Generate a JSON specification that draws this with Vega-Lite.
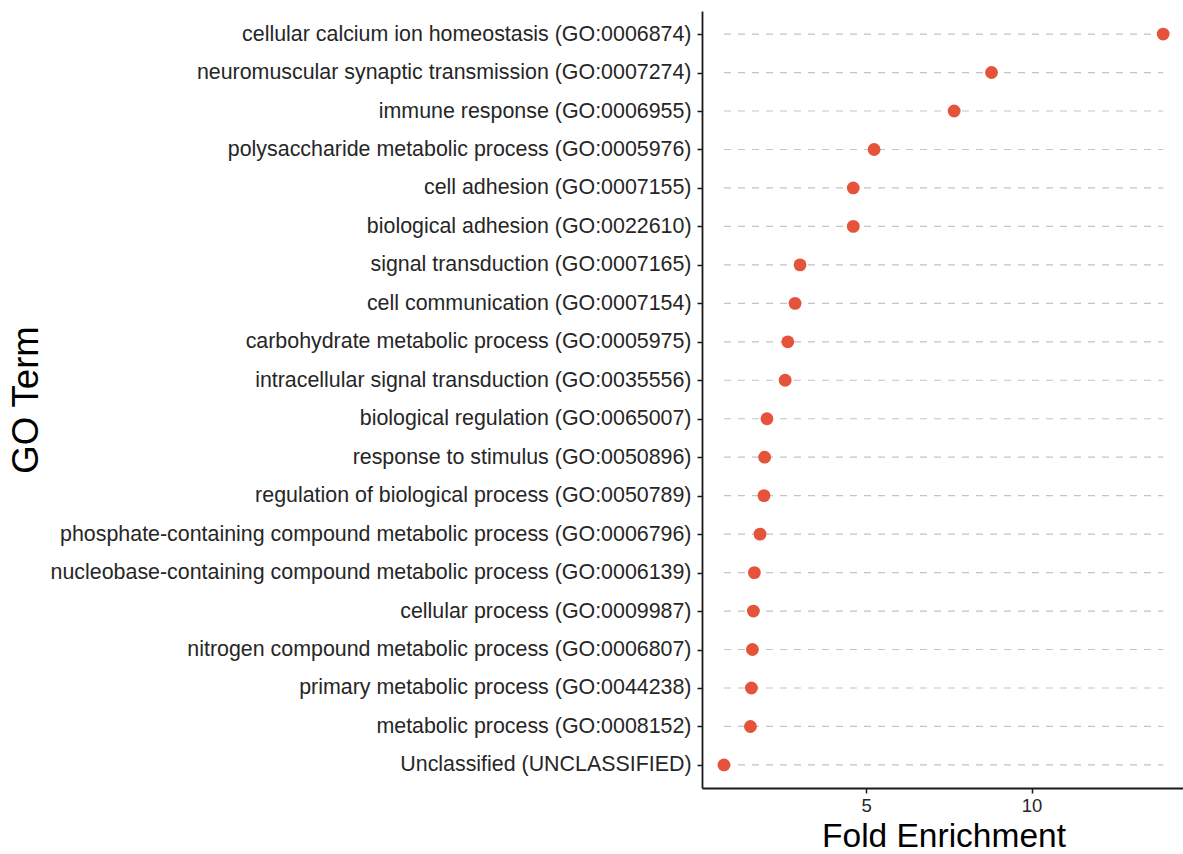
{
  "$schema": "https://vega.github.io/schema/vega-lite/v6.json",
  "autosize": {"type": "none"},
  "padding": {"left": 702, "top": 11, "right": 0, "bottom": 66},
  "width": 483,
  "height": 777,
  "background": "white",
  "config": {
    "view": {"stroke": null},
    "font": "Liberation Sans"
  },
  "data": {
    "values": [
      {"term": "cellular calcium ion homeostasis (GO:0006874)", "fold": 13.98},
      {"term": "neuromuscular synaptic transmission (GO:0007274)", "fold": 8.79},
      {"term": "immune response (GO:0006955)", "fold": 7.66},
      {"term": "polysaccharide metabolic process (GO:0005976)", "fold": 5.24},
      {"term": "cell adhesion (GO:0007155)", "fold": 4.61},
      {"term": "biological adhesion (GO:0022610)", "fold": 4.61},
      {"term": "signal transduction (GO:0007165)", "fold": 3.0},
      {"term": "cell communication (GO:0007154)", "fold": 2.85},
      {"term": "carbohydrate metabolic process (GO:0005975)", "fold": 2.63},
      {"term": "intracellular signal transduction (GO:0035556)", "fold": 2.55},
      {"term": "biological regulation (GO:0065007)", "fold": 2.0},
      {"term": "response to stimulus (GO:0050896)", "fold": 1.93},
      {"term": "regulation of biological process (GO:0050789)", "fold": 1.91},
      {"term": "phosphate-containing compound metabolic process (GO:0006796)", "fold": 1.79},
      {"term": "nucleobase-containing compound metabolic process (GO:0006139)", "fold": 1.62},
      {"term": "cellular process (GO:0009987)", "fold": 1.59},
      {"term": "nitrogen compound metabolic process (GO:0006807)", "fold": 1.56},
      {"term": "primary metabolic process (GO:0044238)", "fold": 1.53},
      {"term": "metabolic process (GO:0008152)", "fold": 1.5},
      {"term": "Unclassified (UNCLASSIFIED)", "fold": 0.7}
    ]
  },
  "transform": [
    {"joinaggregate": [{"op": "min", "field": "fold", "as": "fmin"}, {"op": "max", "field": "fold", "as": "fmax"}]}
  ],
  "encoding": {
    "y": {
      "field": "term",
      "type": "nominal",
      "sort": null,
      "scale": {"type": "point", "padding": 0.6},
      "axis": {
        "title": "GO Term",
        "titleFont": "Liberation Sans",
        "titleFontSize": 36.5,
        "titleFontWeight": "normal",
        "titleColor": "black",
        "titleX": -665,
        "titleY": 388.5,
        "titleAngle": 270,
        "titleAlign": "center",
        "titleBaseline": "alphabetic",
        "labelFontSize": 21.4,
        "labelColor": "#262626",
        "labelPadding": 6,
        "labelLimit": 1000,
        "tickSize": 5,
        "tickColor": "#1a1a1a",
        "tickWidth": 1.5,
        "domainColor": "#1a1a1a",
        "domainWidth": 1.8,
        "grid": false
      }
    }
  },
  "layer": [
    {
      "mark": {"type": "rule", "strokeDash": [7, 7], "color": "#c4c4c4", "strokeWidth": 1.2},
      "encoding": {
        "x": {"field": "fmin", "type": "quantitative"},
        "x2": {"field": "fmax"}
      }
    },
    {
      "mark": {"type": "circle", "color": "#E5533A", "opacity": 1, "size": 165},
      "encoding": {
        "x": {
          "field": "fold",
          "type": "quantitative",
          "scale": {"domain": [0.036, 14.64], "nice": false, "zero": false},
          "axis": {
            "title": "Fold Enrichment",
            "titleFontSize": 33.5,
            "titleFontWeight": "normal",
            "titleColor": "black",
            "titleX": 241.5,
            "titleY": 58,
            "titleAlign": "center",
            "titleBaseline": "alphabetic",
            "values": [5, 10],
            "labelFontSize": 18.5,
            "labelColor": "#262626",
            "labelPadding": 3,
            "tickSize": 5,
            "tickColor": "#1a1a1a",
            "tickWidth": 1.5,
            "domainColor": "#1a1a1a",
            "domainWidth": 1.8,
            "grid": false
          }
        }
      }
    }
  ]
}
